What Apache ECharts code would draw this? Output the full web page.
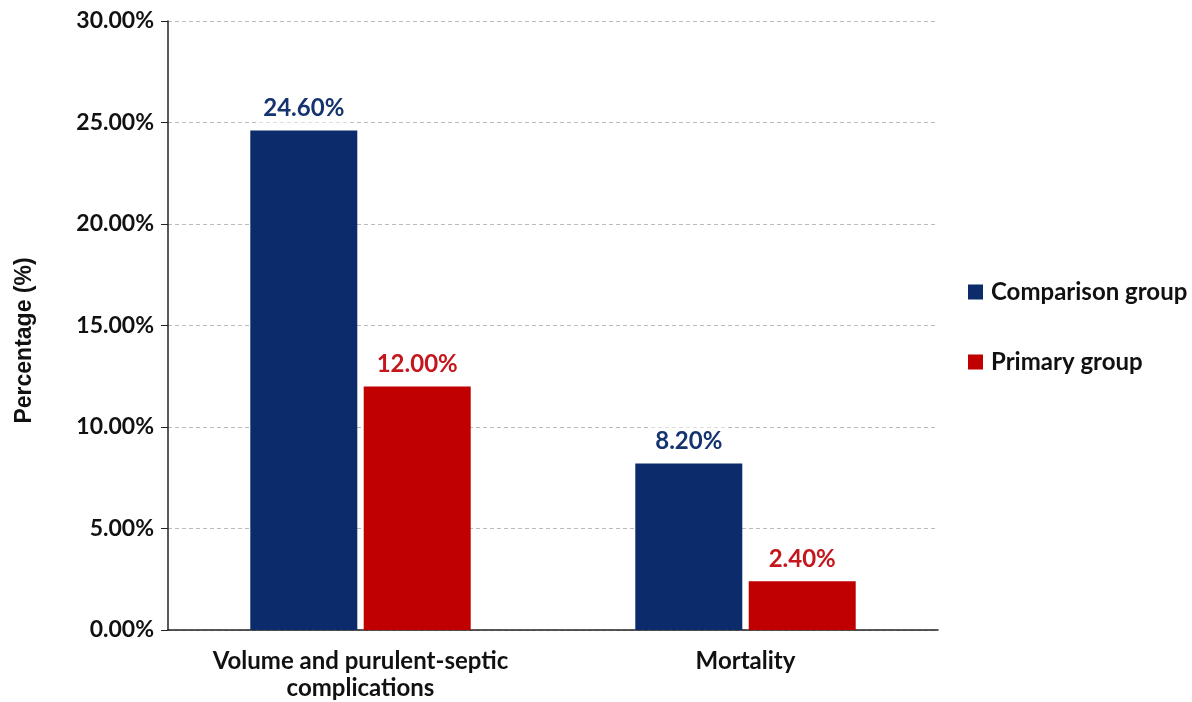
<!DOCTYPE html>
<html>
<head>
<meta charset="utf-8">
<script src="https://cdn.jsdelivr.net/npm/echarts@6/dist/echarts.min.js"></script>
<style>
  html, body { margin: 0; padding: 0; background: #fff; }
  #chart { width: 1192px; height: 702px; }
</style>
</head>
<body>
<div id="chart"></div>
<script>
// data
const categories = ["Volume and purulent-septic\ncomplications", "Mortality"];
const comparisonData = [24.6, 8.2];
const primaryData = [12.0, 2.4];
const seriesNames = ["Comparison group", "Primary group"];

const navy = "#0b2b6b";
const red = "#c00000";
const font = "Lato";

const chart = echarts.init(document.getElementById("chart"));

function labelFor(color) {
  return {
    show: true,
    position: "top",
    distance: 8,
    formatter: p => p.value.toFixed(2) + "%",
    color: color,
    fontFamily: font,
    fontWeight: "bold",
    fontSize: 24,
    backgroundColor: "#fff",
    padding: [2, 6]
  };
}

chart.setOption({
  animation: false,
  grid: {
    left: 168,
    right: 254,
    top: 21,
    bottom: 71
  },
  legend: {
    orient: "vertical",
    left: 963,
    top: 275,
    itemWidth: 15,
    itemHeight: 15,
    itemGap: 46,
    icon: "rect",
    textStyle: {
      fontFamily: font,
      fontWeight: "bold",
      fontSize: 24,
      color: "#111",
      padding: [0, 0, 0, 3]
    },
    data: seriesNames
  },
  xAxis: {
    type: "category",
    data: categories,
    axisLine: { lineStyle: { color: "#222", width: 1.5 } },
    axisTick: { show: false },
    axisLabel: {
      interval: 0,
      fontFamily: font,
      fontWeight: "bold",
      fontSize: 24,
      color: "#111",
      margin: 18,
      lineHeight: 27
    }
  },
  yAxis: {
    type: "value",
    min: 0,
    max: 30,
    interval: 5,
    name: "Percentage (%)",
    nameLocation: "middle",
    nameGap: 132,
    nameTextStyle: {
      fontFamily: "Liberation Sans",
      fontWeight: "bold",
      fontSize: 23,
      color: "#111",
      padding: [0, 30, 0, 0]
    },
    axisLine: { show: true, lineStyle: { color: "#222", width: 1.5 } },
    axisTick: { show: true, length: 7, lineStyle: { color: "#222" } },
    axisLabel: {
      formatter: v => v.toFixed(2) + "%",
      fontFamily: font,
      fontWeight: "bold",
      fontSize: 23,
      color: "#111",
      margin: 14
    },
    splitLine: {
      lineStyle: { color: "#bbb", type: [4, 3], width: 1 }
    }
  },
  series: [
    {
      name: seriesNames[0],
      type: "bar",
      data: comparisonData,
      barWidth: 107,
      barGap: "6%",
      itemStyle: { color: navy },
      label: labelFor("#14336f"),
      z: 3
    },
    {
      name: seriesNames[1],
      type: "bar",
      data: primaryData,
      barWidth: 107,
      barGap: "6%",
      itemStyle: { color: red },
      label: labelFor("#c4161c"),
      z: 3
    }
  ]
});
</script>
</body>
</html>
